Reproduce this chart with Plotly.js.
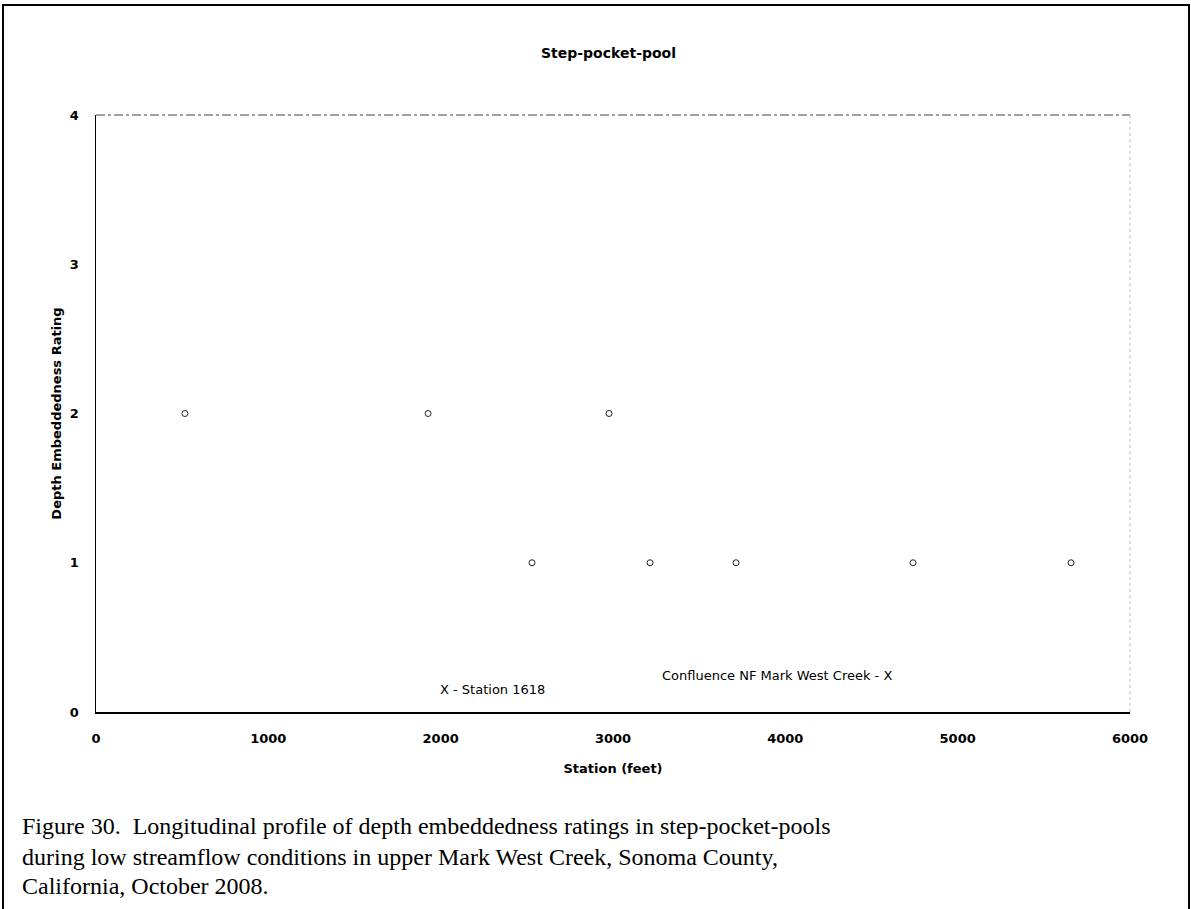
<!DOCTYPE html>
<html>
<head>
<meta charset="utf-8">
<script src="https://cdn.plot.ly/plotly-3.0.1.min.js"></script>
<style>html,body{margin:0;padding:0;background:#fff;}#chart{width:1191px;height:909px;}</style>
</head>
<body>
<div id="chart"></div>
<script>
// Data
const stations = [516, 1927, 2977, 2530, 3215, 3714, 4741, 5658];
const ratings = [2, 2, 2, 1, 1, 1, 1, 1];
const xTicks = [0, 1000, 2000, 3000, 4000, 5000, 6000];
const yTicks = [0, 1, 2, 3, 4];

const W = 1191, H = 909;
const L = 96, R = 1130, T = 115, B = 712;
const px = x => (x - L) / (R - L);
const py = y => (B - y) / (B - T);

const trace = {
  x: stations, y: ratings, type: 'scatter', mode: 'markers',
  marker: {symbol: 'circle-open', size: 6, color: '#222', line: {width: 1, color: '#222'}},
  hoverinfo: 'x+y', showlegend: false
};

const caption = [
  'Figure 30.  Longitudinal profile of depth embeddedness ratings in step-pocket-pools',
  'during low streamflow conditions in upper Mark West Creek, Sonoma County,',
  'California, October 2008.'
];

const annotations = [
  {text: '<b>Step-pocket-pool</b>', xref: 'paper', yref: 'paper', x: px(608), y: py(53), yanchor: 'middle', showarrow: false,
   font: {family: 'DejaVu Sans', size: 14, color: '#000'}},
  {text: 'X - Station 1618', xref: 'paper', yref: 'paper', x: px(438), y: py(689), yanchor: 'middle', showarrow: false,
   font: {family: 'DejaVu Sans', size: 13, color: '#000'}},
  {text: 'Confluence NF Mark West Creek - X', xref: 'paper', yref: 'paper', x: px(894), y: py(675), yanchor: 'middle', showarrow: false,
   font: {family: 'DejaVu Sans', size: 13, color: '#000'}}
];
caption.forEach((t, i) => annotations.push({
  text: t, xref: 'paper', yref: 'paper', x: px(20), y: py([826, 857, 886][i]), xanchor: 'left', yanchor: 'middle', showarrow: false,
  font: {family: 'Liberation Serif', size: 24, color: '#000'}
}));

const layout = {
  width: W, height: H,
  margin: {l: L, r: W - R, t: T, b: H - B, pad: 0},
  paper_bgcolor: '#fff', plot_bgcolor: '#fff',
  font: {family: 'DejaVu Sans', color: '#000'},
  xaxis: {
    range: [0, 6000], tickvals: xTicks, ticktext: xTicks.map(String),
    showgrid: false, zeroline: false, showline: true, linecolor: '#000', linewidth: 2,
    ticks: '', ticklabelstandoff: 13, tickfont: {family: 'DejaVu Sans', size: 13, color: '#000', weight: 'bold'},
    title: {text: '<b>Station (feet)</b>', font: {family: 'DejaVu Sans', size: 13, color: '#000'}, standoff: 19}
  },
  yaxis: {
    range: [0, 4], tickvals: yTicks, ticktext: yTicks.map(String),
    showgrid: false, zeroline: false, showline: true, linecolor: '#000', linewidth: 1.5,
    ticks: '', ticklabelstandoff: 13, tickfont: {family: 'DejaVu Sans', size: 13, color: '#000', weight: 'bold'},
    title: {text: '<b>Depth Embeddedness Rating</b>', font: {family: 'DejaVu Sans', size: 13, color: '#000'}, standoff: 5}
  },
  shapes: [
    {type: 'line', xref: 'paper', yref: 'paper', x0: 0, x1: 1, y0: 1, y1: 1,
     line: {color: '#444', width: 1, dash: 'dashdot'}},
    {type: 'line', xref: 'paper', yref: 'paper', x0: 1, x1: 1, y0: 0, y1: 1,
     line: {color: '#bbb', width: 1, dash: 'dot'}},
    {type: 'rect', xref: 'paper', yref: 'paper', x0: px(3), x1: px(1189), y0: py(5), y1: py(912),
     line: {color: '#000', width: 2}}
  ],
  annotations: annotations
};

Plotly.newPlot('chart', [trace], layout, {displayModeBar: false, staticPlot: true});
</script>
</body>
</html>
